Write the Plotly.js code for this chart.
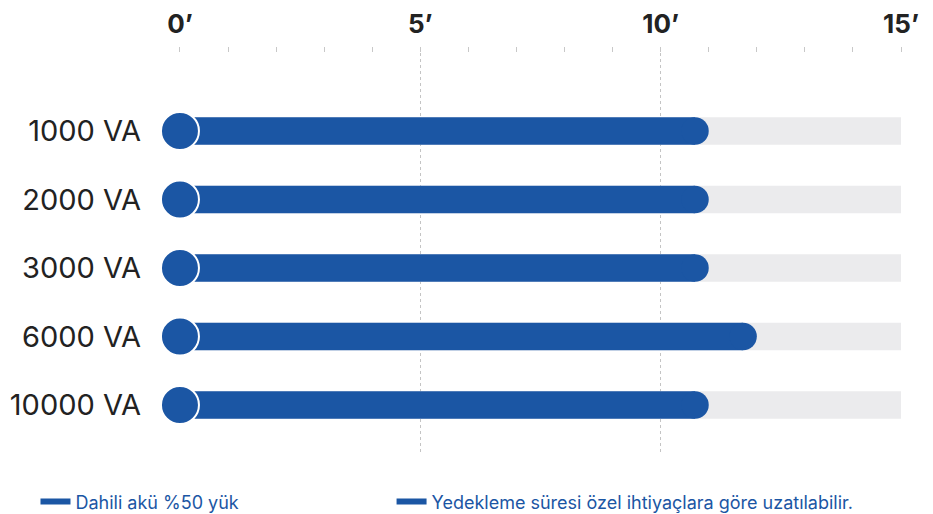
<!DOCTYPE html>
<html>
<head>
<meta charset="utf-8">
<script src="https://cdn.plot.ly/plotly-3.0.1.min.js"></script>
<style>html,body{margin:0;padding:0;background:#fff;}#chart{width:933px;height:514px;}</style>
</head>
<body>
<div id="chart"></div>
<script>
// Data
const categories = ['1000 VA', '2000 VA', '3000 VA', '6000 VA', '10000 VA'];
const runtimeMinutes = [11, 11, 11, 12, 11];
const scaleMax = [15, 15, 15, 15, 15];
const startPoint = [0, 0, 0, 0, 0];
const tickVals = [0, 5, 10, 15];
const tickText = ['0\u2019', '5\u2019', '10\u2019', '15\u2019'];
const legendNames = ['Dahili akü %50 yük', 'Yedekleme süresi özel ihtiyaçlara göre uzatılabilir.'];

const BLUE = '#1B56A4';
const GREY = '#EBEBED';

// Layout geometry
const W = 933, H = 514;
const M = {l: 179, r: 31, t: 47, b: 59};
const xRange = [-0.02, 15.02];
const yRange = [4.73, -1.226];
const barWidth = 0.4;

// rounded end cap: half the bar thickness, converted to x units
const pxPerY = (H - M.t - M.b) / Math.abs(yRange[0] - yRange[1]);
const pxPerX = (W - M.l - M.r) / (xRange[1] - xRange[0]);
const barThickPx = barWidth * pxPerY;
const capOffset = (barThickPx / 2) / pxPerX;
const bodyEnd = runtimeMinutes.map(v => v - capOffset);

const traces = [
  {
    type: 'bar', orientation: 'h', y: categories, x: scaleMax,
    marker: {color: GREY}, width: barWidth, showlegend: false, hoverinfo: 'skip'
  },
  {
    type: 'bar', orientation: 'h', y: categories, x: bodyEnd,
    marker: {color: BLUE}, width: barWidth, showlegend: false, hoverinfo: 'skip'
  },
  {
    type: 'scatter', mode: 'markers', y: categories, x: bodyEnd,
    marker: {color: BLUE, size: barThickPx, line: {width: 0}},
    showlegend: false, hoverinfo: 'skip'
  },
  {
    type: 'scatter', mode: 'markers', y: categories, x: startPoint,
    marker: {color: BLUE, size: 38, line: {color: '#fff', width: 2}},
    cliponaxis: false, showlegend: false, hoverinfo: 'skip'
  },
  {
    type: 'scatter', mode: 'lines', x: [null], y: [null], name: legendNames[0],
    line: {color: BLUE, width: 6}, legend: 'legend'
  },
  {
    type: 'scatter', mode: 'lines', x: [null], y: [null], name: legendNames[1],
    line: {color: BLUE, width: 6}, legend: 'legend2'
  }
];

const legendBase = {
  orientation: 'h', xanchor: 'left', yanchor: 'middle', y: -0.115,
  font: {size: 18, color: BLUE, family: 'Inter, "Noto Sans", sans-serif'},
  bgcolor: 'rgba(0,0,0,0)', itemclick: false, itemdoubleclick: false
};

const layout = {
  width: W, height: H,
  margin: {l: M.l, r: M.r, t: M.t, b: M.b, autoexpand: false},
  paper_bgcolor: '#fff', plot_bgcolor: '#fff',
  font: {family: 'Inter, "Noto Sans", sans-serif', color: '#222'},
  barmode: 'overlay',
  xaxis: {
    side: 'top', range: xRange, tickvals: tickVals, ticktext: tickText,
    tickfont: {size: 26, color: '#222', weight: 'bold'},
    showgrid: true, gridcolor: '#c4c4c4', griddash: 'dot', gridwidth: 1,
    zeroline: false, showline: false, ticks: '', ticklabelstandoff: 8,
    minor: {dtick: 1, ticks: 'inside', ticklen: 5, tickcolor: '#c8c8c8', tickwidth: 1, showgrid: false},
    automargin: false, fixedrange: true
  },
  yaxis: {
    type: 'category', categoryorder: 'array', categoryarray: categories,
    range: yRange, showgrid: false, zeroline: false, showline: false,
    ticks: '', tickfont: {size: 29, color: '#222'}, ticklabelstandoff: 37,
    automargin: false, fixedrange: true
  },
  showlegend: true,
  legend: Object.assign({}, legendBase, {x: -0.1985}),
  legend2: Object.assign({}, legendBase, {x: 0.294})
};

Plotly.newPlot('chart', traces, layout, {displayModeBar: false, staticPlot: true});
</script>
</body>
</html>
